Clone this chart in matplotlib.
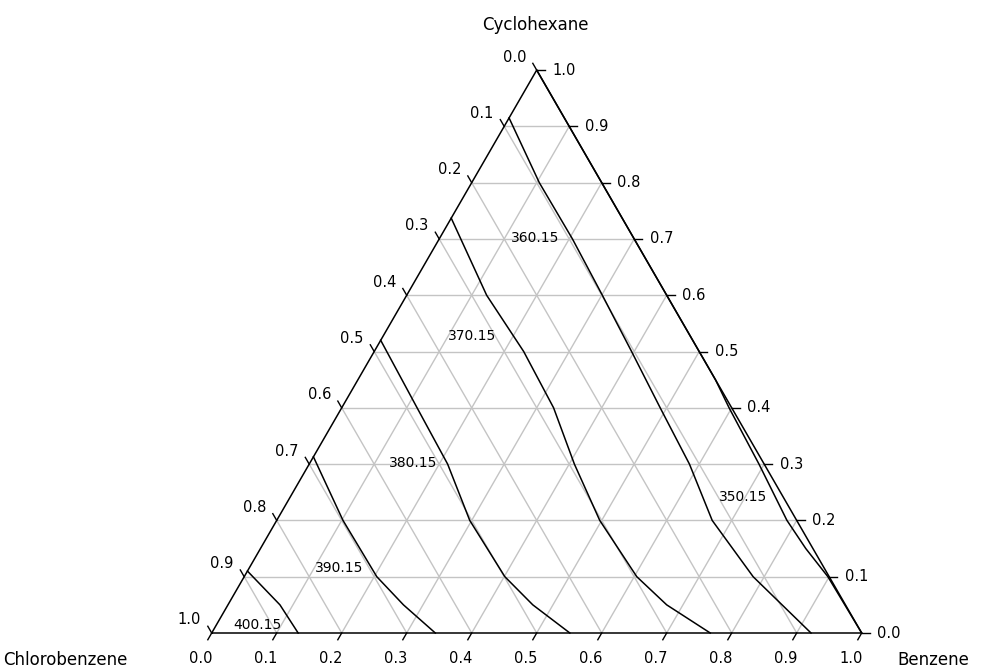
import numpy as np
import matplotlib
matplotlib.use("Agg")
import matplotlib.pyplot as plt

# isotherms: (benzene, cyclohexane) fractions
iso_labels = ["400.15", "390.15", "380.15", "370.15", "360.15", "350.15"]

t400_c = [0.11, 0.05, 0.0]
t400_b = [0.0, 0.080, 0.133]

t390_c = [0.313, 0.20, 0.10, 0.05, 0.0]
t390_b = [0.0, 0.102, 0.204, 0.270, 0.344]

t380_c = [0.52, 0.40, 0.30, 0.20, 0.10, 0.05, 0.0]
t380_b = [0.0, 0.116, 0.213, 0.297, 0.401, 0.469, 0.551]

t370_c = [0.737, 0.60, 0.50, 0.40, 0.30, 0.20, 0.10, 0.05, 0.0]
t370_b = [0.0, 0.123, 0.230, 0.326, 0.408, 0.497, 0.604, 0.675, 0.767]

t360_c = [0.915, 0.80, 0.70, 0.60, 0.50, 0.40, 0.30, 0.20, 0.10, 0.0]
t360_b = [0.0, 0.104, 0.205, 0.301, 0.396, 0.490, 0.585, 0.670, 0.783, 0.922]

t350_c = [1.0, 0.45, 0.40, 0.30, 0.20, 0.15, 0.10, 0.0]
t350_chloro = [0.0, 0.0, 0.004, 0.008, 0.015, 0.011, 0.002, 0.0]

# label anchor points (benzene, cyclohexane)
lab_b = [0.064, 0.139, 0.159, 0.137, 0.147, 0.697]
lab_c = [0.014, 0.1155, 0.302, 0.5275, 0.7016, 0.2416]

ticks = np.round(np.arange(0, 1.01, 0.1), 1)

H = np.sqrt(3) / 2


def to_xy(b, c):
    b = np.asarray(b, float)
    c = np.asarray(c, float)
    return b + c / 2, c * H


fig = plt.figure(figsize=(9.96, 6.69), dpi=100)
ax = fig.add_axes([0, 0, 1, 1])
ax.set_xlim(-211.7 / 650, (996 - 211.7) / 650)
ax.set_ylim((633 - 669) / 650, 633 / 650)
ax.axis('off')

grid_kw = dict(color='#c4c4c4', lw=1.0, zorder=1)
for v in ticks[1:-1]:
    # constant cyclohexane
    x, y = to_xy([0, 1 - v], [v, v])
    ax.plot(x, y, **grid_kw)
    # constant benzene
    x, y = to_xy([v, v], [0, 1 - v])
    ax.plot(x, y, **grid_kw)
    # constant chlorobenzene
    x, y = to_xy([1 - v, 0], [0, 1 - v])
    ax.plot(x, y, **grid_kw)

# triangle
x, y = to_xy([0, 1, 0, 0], [0, 0, 1, 0])
ax.plot(x, y, color='black', lw=1.1, zorder=3)

# isotherms
curves = [(t400_b, t400_c), (t390_b, t390_c), (t380_b, t380_c),
          (t370_b, t370_c), (t360_b, t360_c),
          (1 - np.array(t350_c) - np.array(t350_chloro), t350_c)]
for b, c in curves:
    x, y = to_xy(b, c)
    ax.plot(x, y, color='black', lw=1.1, zorder=4)

for s, b, c in zip(iso_labels, lab_b, lab_c):
    x, y = to_xy(b, c)
    ax.text(x, y, s, ha='center', va='center', fontsize=10, zorder=5)

L = 0.012
fs = 10.5
for v in ticks:
    # bottom: benzene
    x, y = to_xy(v, 0)
    ax.plot([x, x - 0.5 * L], [y, y - H * L], color='black', lw=1, zorder=3)
    ax.text(x - 0.017, y - 0.039, f"{v:.1f}", ha='center', va='center', fontsize=fs)
    # left: chlorobenzene
    x, y = to_xy(0, 1 - v)
    ax.plot([x, x - 0.5 * L], [y, y + H * L], color='black', lw=1, zorder=3)
    ax.text(x - 0.034, y + 0.02, f"{v:.1f}", ha='center', va='center', fontsize=fs)
    # right: cyclohexane
    x, y = to_xy(1 - v, v)
    ax.plot([x, x + L], [y, y], color='black', lw=1, zorder=3)
    ax.text(x + 0.042, y, f"{v:.1f}", ha='center', va='center', fontsize=fs)

ax.text((535 - 211.7) / 650, (633 - 25) / 650, "Cyclohexane", ha='center', va='center', fontsize=12)
ax.text((65 - 211.7) / 650, (633 - 660) / 650, "Chlorobenzene", ha='center', va='center', fontsize=12)
ax.text((933 - 211.7) / 650, (633 - 660) / 650, "Benzene", ha='center', va='center', fontsize=12)

fig.savefig("out.png", dpi=100)
